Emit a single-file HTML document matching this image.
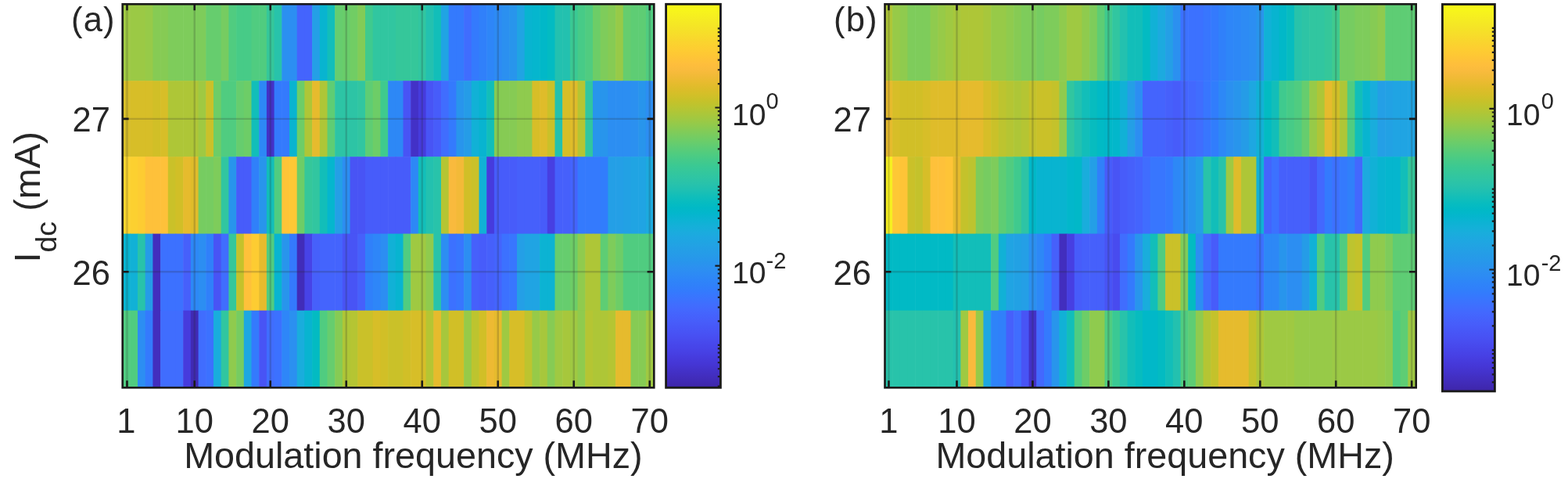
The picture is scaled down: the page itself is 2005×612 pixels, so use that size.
<!DOCTYPE html>
<html><head><meta charset="utf-8"><title>figure</title>
<style>html,body{margin:0;padding:0;background:#fff;width:2005px;height:612px;overflow:hidden}svg{display:block}</style>
</head><body>
<svg width="2005" height="612" viewBox="0 0 2005 612">
<defs><linearGradient id="cbg" x1="0" y1="0" x2="0" y2="1"><stop offset="0.0000" stop-color="#f9fb15"/><stop offset="0.0156" stop-color="#f7f51b"/><stop offset="0.0312" stop-color="#f6ef20"/><stop offset="0.0469" stop-color="#f5e924"/><stop offset="0.0625" stop-color="#f5e327"/><stop offset="0.0781" stop-color="#f7dd2a"/><stop offset="0.0938" stop-color="#f9d62d"/><stop offset="0.1094" stop-color="#fcd030"/><stop offset="0.1250" stop-color="#feca33"/><stop offset="0.1406" stop-color="#fec437"/><stop offset="0.1562" stop-color="#febe3c"/><stop offset="0.1719" stop-color="#f9bb3d"/><stop offset="0.1875" stop-color="#f1ba37"/><stop offset="0.2031" stop-color="#e8bb2f"/><stop offset="0.2188" stop-color="#debc2a"/><stop offset="0.2344" stop-color="#d4bf28"/><stop offset="0.2500" stop-color="#c8c129"/><stop offset="0.2656" stop-color="#bcc42f"/><stop offset="0.2812" stop-color="#afc637"/><stop offset="0.2969" stop-color="#a2c840"/><stop offset="0.3125" stop-color="#94ca4a"/><stop offset="0.3281" stop-color="#85cb55"/><stop offset="0.3438" stop-color="#77cc60"/><stop offset="0.3594" stop-color="#69cd6b"/><stop offset="0.3750" stop-color="#5ccc76"/><stop offset="0.3906" stop-color="#4fcc80"/><stop offset="0.4062" stop-color="#44ca8a"/><stop offset="0.4219" stop-color="#3ac993"/><stop offset="0.4375" stop-color="#34c79c"/><stop offset="0.4531" stop-color="#2ec5a4"/><stop offset="0.4688" stop-color="#28c2ab"/><stop offset="0.4844" stop-color="#1ec0b2"/><stop offset="0.5000" stop-color="#12beb9"/><stop offset="0.5156" stop-color="#07bcc0"/><stop offset="0.5312" stop-color="#01b9c6"/><stop offset="0.5469" stop-color="#04b6cd"/><stop offset="0.5625" stop-color="#0cb3d3"/><stop offset="0.5781" stop-color="#14b0d8"/><stop offset="0.5938" stop-color="#1aacdd"/><stop offset="0.6094" stop-color="#1ea7e1"/><stop offset="0.6250" stop-color="#21a3e3"/><stop offset="0.6406" stop-color="#249ee6"/><stop offset="0.6562" stop-color="#269ae9"/><stop offset="0.6719" stop-color="#2895ec"/><stop offset="0.6875" stop-color="#2c90f0"/><stop offset="0.7031" stop-color="#2d8bf4"/><stop offset="0.7188" stop-color="#2e85f8"/><stop offset="0.7344" stop-color="#3080fa"/><stop offset="0.7500" stop-color="#347afd"/><stop offset="0.7656" stop-color="#3a74fe"/><stop offset="0.7812" stop-color="#3f6efe"/><stop offset="0.7969" stop-color="#4368fe"/><stop offset="0.8125" stop-color="#4562fc"/><stop offset="0.8281" stop-color="#475dfa"/><stop offset="0.8438" stop-color="#4757f7"/><stop offset="0.8594" stop-color="#4852f4"/><stop offset="0.8750" stop-color="#484cef"/><stop offset="0.8906" stop-color="#4746ea"/><stop offset="0.9062" stop-color="#4741e5"/><stop offset="0.9219" stop-color="#463bdd"/><stop offset="0.9375" stop-color="#4536d5"/><stop offset="0.9531" stop-color="#4332ca"/><stop offset="0.9688" stop-color="#422ebf"/><stop offset="0.9844" stop-color="#402ab4"/><stop offset="1.0000" stop-color="#3e26a8"/></linearGradient></defs>
<style>
.t{font-family:'Liberation Sans',Arial,Helvetica,sans-serif;font-size:43.5px;fill:#262626}
.pl{font-family:'Liberation Sans',Arial,Helvetica,sans-serif;font-size:43.5px;fill:#262626;letter-spacing:1.2px}
.sup{font-family:'Liberation Sans',Arial,Helvetica,sans-serif;font-size:29px;fill:#262626}
.cb{font-family:'Liberation Sans',Arial,Helvetica,sans-serif;font-size:39px;fill:#262626}
.xl{font-family:'Liberation Sans',Arial,Helvetica,sans-serif;font-size:46.7px;fill:#262626}
.yl{font-family:'Liberation Sans',Arial,Helvetica,sans-serif;font-size:47px;fill:#262626}
.sub{font-size:37.5px}
</style>
<rect width="2005" height="612" fill="#fff"/><rect x="156.60" y="5.40" width="10.30" height="98.40" fill="#9fc942"/>
<rect x="166.30" y="5.40" width="10.30" height="98.40" fill="#9bc945"/>
<rect x="176.00" y="5.40" width="10.30" height="98.40" fill="#9bc945"/>
<rect x="185.70" y="5.40" width="10.30" height="98.40" fill="#97ca48"/>
<rect x="195.40" y="5.40" width="10.30" height="98.40" fill="#86cb54"/>
<rect x="205.10" y="5.40" width="10.30" height="98.40" fill="#86cb54"/>
<rect x="214.80" y="5.40" width="10.30" height="98.40" fill="#7ecc5b"/>
<rect x="224.50" y="5.40" width="10.30" height="98.40" fill="#7ecc5b"/>
<rect x="234.20" y="5.40" width="10.30" height="98.40" fill="#7ecc5b"/>
<rect x="243.90" y="5.40" width="10.30" height="98.40" fill="#7ecc5b"/>
<rect x="253.60" y="5.40" width="10.30" height="98.40" fill="#7ecc5b"/>
<rect x="263.30" y="5.40" width="10.30" height="98.40" fill="#66cd6e"/>
<rect x="273.00" y="5.40" width="10.30" height="98.40" fill="#66cd6e"/>
<rect x="282.70" y="5.40" width="10.30" height="98.40" fill="#76cc61"/>
<rect x="292.40" y="5.40" width="10.30" height="98.40" fill="#50cc80"/>
<rect x="302.10" y="5.40" width="10.30" height="98.40" fill="#47cb87"/>
<rect x="311.80" y="5.40" width="10.30" height="98.40" fill="#47cb87"/>
<rect x="321.50" y="5.40" width="10.30" height="98.40" fill="#50cc80"/>
<rect x="331.20" y="5.40" width="10.30" height="98.40" fill="#50cc80"/>
<rect x="340.90" y="5.40" width="10.30" height="98.40" fill="#35c79a"/>
<rect x="350.60" y="5.40" width="10.30" height="98.40" fill="#28c3aa"/>
<rect x="360.30" y="5.40" width="10.30" height="98.40" fill="#2b90f0"/>
<rect x="370.00" y="5.40" width="10.30" height="98.40" fill="#2c8ef2"/>
<rect x="379.70" y="5.40" width="10.30" height="98.40" fill="#4464fd"/>
<rect x="389.40" y="5.40" width="10.30" height="98.40" fill="#4464fd"/>
<rect x="399.10" y="5.40" width="10.30" height="98.40" fill="#249fe6"/>
<rect x="408.80" y="5.40" width="10.30" height="98.40" fill="#08b4d0"/>
<rect x="418.50" y="5.40" width="10.30" height="98.40" fill="#12beb9"/>
<rect x="428.20" y="5.40" width="10.30" height="98.40" fill="#66cd6e"/>
<rect x="437.90" y="5.40" width="10.30" height="98.40" fill="#69cd6a"/>
<rect x="447.60" y="5.40" width="10.30" height="98.40" fill="#71cd64"/>
<rect x="457.30" y="5.40" width="10.30" height="98.40" fill="#82cc57"/>
<rect x="467.00" y="5.40" width="10.30" height="98.40" fill="#3fca8e"/>
<rect x="476.70" y="5.40" width="10.30" height="98.40" fill="#31c6a0"/>
<rect x="486.40" y="5.40" width="10.30" height="98.40" fill="#31c6a0"/>
<rect x="496.10" y="5.40" width="10.30" height="98.40" fill="#31c6a0"/>
<rect x="505.80" y="5.40" width="10.30" height="98.40" fill="#35c79a"/>
<rect x="515.50" y="5.40" width="10.30" height="98.40" fill="#35c79a"/>
<rect x="525.20" y="5.40" width="10.30" height="98.40" fill="#35c79a"/>
<rect x="534.90" y="5.40" width="10.30" height="98.40" fill="#31c6a0"/>
<rect x="544.60" y="5.40" width="10.30" height="98.40" fill="#23c1af"/>
<rect x="554.30" y="5.40" width="10.30" height="98.40" fill="#12beb9"/>
<rect x="564.00" y="5.40" width="10.30" height="98.40" fill="#20a4e3"/>
<rect x="573.70" y="5.40" width="10.30" height="98.40" fill="#347afd"/>
<rect x="583.40" y="5.40" width="10.30" height="98.40" fill="#347afd"/>
<rect x="593.10" y="5.40" width="10.30" height="98.40" fill="#406dfe"/>
<rect x="602.80" y="5.40" width="10.30" height="98.40" fill="#347afd"/>
<rect x="612.50" y="5.40" width="10.30" height="98.40" fill="#3080fa"/>
<rect x="622.20" y="5.40" width="10.30" height="98.40" fill="#2e86f8"/>
<rect x="631.90" y="5.40" width="10.30" height="98.40" fill="#2d8bf4"/>
<rect x="641.60" y="5.40" width="10.30" height="98.40" fill="#2b90f0"/>
<rect x="651.30" y="5.40" width="10.30" height="98.40" fill="#2895ec"/>
<rect x="661.00" y="5.40" width="10.30" height="98.40" fill="#20a4e3"/>
<rect x="670.70" y="5.40" width="10.30" height="98.40" fill="#08b4d0"/>
<rect x="680.40" y="5.40" width="10.30" height="98.40" fill="#05b6ce"/>
<rect x="690.10" y="5.40" width="10.30" height="98.40" fill="#01b8c8"/>
<rect x="699.80" y="5.40" width="10.30" height="98.40" fill="#03bbc2"/>
<rect x="709.50" y="5.40" width="10.30" height="98.40" fill="#23c1af"/>
<rect x="719.20" y="5.40" width="10.30" height="98.40" fill="#23c1af"/>
<rect x="728.90" y="5.40" width="10.30" height="98.40" fill="#3ac994"/>
<rect x="738.60" y="5.40" width="10.30" height="98.40" fill="#47cb87"/>
<rect x="748.30" y="5.40" width="10.30" height="98.40" fill="#50cc80"/>
<rect x="758.00" y="5.40" width="10.30" height="98.40" fill="#6dcd67"/>
<rect x="767.70" y="5.40" width="10.30" height="98.40" fill="#7ecc5b"/>
<rect x="777.40" y="5.40" width="10.30" height="98.40" fill="#86cb54"/>
<rect x="787.10" y="5.40" width="10.30" height="98.40" fill="#97ca48"/>
<rect x="796.80" y="5.40" width="10.30" height="98.40" fill="#66cd6e"/>
<rect x="806.50" y="5.40" width="10.30" height="98.40" fill="#5ecd74"/>
<rect x="816.20" y="5.40" width="10.30" height="98.40" fill="#5ecd74"/>
<rect x="825.90" y="5.40" width="10.30" height="98.40" fill="#50cc80"/>
<rect x="156.60" y="103.20" width="10.30" height="97.60" fill="#d7be28"/>
<rect x="166.30" y="103.20" width="10.30" height="97.60" fill="#d7be28"/>
<rect x="176.00" y="103.20" width="10.30" height="97.60" fill="#d7be28"/>
<rect x="185.70" y="103.20" width="10.30" height="97.60" fill="#d7be28"/>
<rect x="195.40" y="103.20" width="10.30" height="97.60" fill="#d1bf27"/>
<rect x="205.10" y="103.20" width="10.30" height="97.60" fill="#d7be28"/>
<rect x="214.80" y="103.20" width="10.30" height="97.60" fill="#aec637"/>
<rect x="224.50" y="103.20" width="10.30" height="97.60" fill="#aec637"/>
<rect x="234.20" y="103.20" width="10.30" height="97.60" fill="#aec637"/>
<rect x="243.90" y="103.20" width="10.30" height="97.60" fill="#aec637"/>
<rect x="253.60" y="103.20" width="10.30" height="97.60" fill="#9fc942"/>
<rect x="263.30" y="103.20" width="10.30" height="97.60" fill="#cac129"/>
<rect x="273.00" y="103.20" width="10.30" height="97.60" fill="#6dcd67"/>
<rect x="282.70" y="103.20" width="10.30" height="97.60" fill="#50cc80"/>
<rect x="292.40" y="103.20" width="10.30" height="97.60" fill="#50cc80"/>
<rect x="302.10" y="103.20" width="10.30" height="97.60" fill="#66cd6e"/>
<rect x="311.80" y="103.20" width="10.30" height="97.60" fill="#6dcd67"/>
<rect x="321.50" y="103.20" width="10.30" height="97.60" fill="#12beb9"/>
<rect x="331.20" y="103.20" width="10.30" height="97.60" fill="#2d88f6"/>
<rect x="340.90" y="103.20" width="10.30" height="97.60" fill="#4331c7"/>
<rect x="350.60" y="103.20" width="10.30" height="97.60" fill="#347afd"/>
<rect x="360.30" y="103.20" width="10.30" height="97.60" fill="#347afd"/>
<rect x="370.00" y="103.20" width="10.30" height="97.60" fill="#08b4d0"/>
<rect x="379.70" y="103.20" width="10.30" height="97.60" fill="#6dcd67"/>
<rect x="389.40" y="103.20" width="10.30" height="97.60" fill="#aec637"/>
<rect x="399.10" y="103.20" width="10.30" height="97.60" fill="#e6bb2d"/>
<rect x="408.80" y="103.20" width="10.30" height="97.60" fill="#aec637"/>
<rect x="418.50" y="103.20" width="10.30" height="97.60" fill="#5ecd74"/>
<rect x="428.20" y="103.20" width="10.30" height="97.60" fill="#2dc4a5"/>
<rect x="437.90" y="103.20" width="10.30" height="97.60" fill="#2dc4a5"/>
<rect x="447.60" y="103.20" width="10.30" height="97.60" fill="#2dc4a5"/>
<rect x="457.30" y="103.20" width="10.30" height="97.60" fill="#31c6a0"/>
<rect x="467.00" y="103.20" width="10.30" height="97.60" fill="#5ecd74"/>
<rect x="476.70" y="103.20" width="10.30" height="97.60" fill="#6dcd67"/>
<rect x="486.40" y="103.20" width="10.30" height="97.60" fill="#3fca8e"/>
<rect x="496.10" y="103.20" width="10.30" height="97.60" fill="#2d88f6"/>
<rect x="505.80" y="103.20" width="10.30" height="97.60" fill="#2d88f6"/>
<rect x="515.50" y="103.20" width="10.30" height="97.60" fill="#4854f5"/>
<rect x="525.20" y="103.20" width="10.30" height="97.60" fill="#4331c7"/>
<rect x="534.90" y="103.20" width="10.30" height="97.60" fill="#463bdd"/>
<rect x="544.60" y="103.20" width="10.30" height="97.60" fill="#4854f5"/>
<rect x="554.30" y="103.20" width="10.30" height="97.60" fill="#475cfa"/>
<rect x="564.00" y="103.20" width="10.30" height="97.60" fill="#406dfe"/>
<rect x="573.70" y="103.20" width="10.30" height="97.60" fill="#347afd"/>
<rect x="583.40" y="103.20" width="10.30" height="97.60" fill="#2895ec"/>
<rect x="593.10" y="103.20" width="10.30" height="97.60" fill="#259ce7"/>
<rect x="602.80" y="103.20" width="10.30" height="97.60" fill="#11b1d6"/>
<rect x="612.50" y="103.20" width="10.30" height="97.60" fill="#08b4d0"/>
<rect x="622.20" y="103.20" width="10.30" height="97.60" fill="#12beb9"/>
<rect x="631.90" y="103.20" width="10.30" height="97.60" fill="#86cb54"/>
<rect x="641.60" y="103.20" width="10.30" height="97.60" fill="#86cb54"/>
<rect x="651.30" y="103.20" width="10.30" height="97.60" fill="#86cb54"/>
<rect x="661.00" y="103.20" width="10.30" height="97.60" fill="#8fcb4e"/>
<rect x="670.70" y="103.20" width="10.30" height="97.60" fill="#8fcb4e"/>
<rect x="680.40" y="103.20" width="10.30" height="97.60" fill="#d7be28"/>
<rect x="690.10" y="103.20" width="10.30" height="97.60" fill="#dfbc2a"/>
<rect x="699.80" y="103.20" width="10.30" height="97.60" fill="#cac129"/>
<rect x="709.50" y="103.20" width="10.30" height="97.60" fill="#23c1af"/>
<rect x="719.20" y="103.20" width="10.30" height="97.60" fill="#d7be28"/>
<rect x="728.90" y="103.20" width="10.30" height="97.60" fill="#dfbc2a"/>
<rect x="738.60" y="103.20" width="10.30" height="97.60" fill="#b5c533"/>
<rect x="748.30" y="103.20" width="10.30" height="97.60" fill="#31c6a0"/>
<rect x="758.00" y="103.20" width="10.30" height="97.60" fill="#2895ec"/>
<rect x="767.70" y="103.20" width="10.30" height="97.60" fill="#2895ec"/>
<rect x="777.40" y="103.20" width="10.30" height="97.60" fill="#2c8ef2"/>
<rect x="787.10" y="103.20" width="10.30" height="97.60" fill="#2c8ef2"/>
<rect x="796.80" y="103.20" width="10.30" height="97.60" fill="#2c8ef2"/>
<rect x="806.50" y="103.20" width="10.30" height="97.60" fill="#2b90f0"/>
<rect x="816.20" y="103.20" width="10.30" height="97.60" fill="#2895ec"/>
<rect x="825.90" y="103.20" width="10.30" height="97.60" fill="#2c8ef2"/>
<rect x="156.60" y="200.20" width="10.30" height="99.00" fill="#fad42e"/>
<rect x="166.30" y="200.20" width="10.30" height="99.00" fill="#fcd030"/>
<rect x="176.00" y="200.20" width="10.30" height="99.00" fill="#fdcc32"/>
<rect x="185.70" y="200.20" width="10.30" height="99.00" fill="#fec13a"/>
<rect x="195.40" y="200.20" width="10.30" height="99.00" fill="#fec13a"/>
<rect x="205.10" y="200.20" width="10.30" height="99.00" fill="#fec13a"/>
<rect x="214.80" y="200.20" width="10.30" height="99.00" fill="#cac129"/>
<rect x="224.50" y="200.20" width="10.30" height="99.00" fill="#d1bf27"/>
<rect x="234.20" y="200.20" width="10.30" height="99.00" fill="#e6bb2d"/>
<rect x="243.90" y="200.20" width="10.30" height="99.00" fill="#dfbc2a"/>
<rect x="253.60" y="200.20" width="10.30" height="99.00" fill="#76cc61"/>
<rect x="263.30" y="200.20" width="10.30" height="99.00" fill="#76cc61"/>
<rect x="273.00" y="200.20" width="10.30" height="99.00" fill="#7ecc5b"/>
<rect x="282.70" y="200.20" width="10.30" height="99.00" fill="#31c6a0"/>
<rect x="292.40" y="200.20" width="10.30" height="99.00" fill="#2895ec"/>
<rect x="302.10" y="200.20" width="10.30" height="99.00" fill="#475cfa"/>
<rect x="311.80" y="200.20" width="10.30" height="99.00" fill="#475cfa"/>
<rect x="321.50" y="200.20" width="10.30" height="99.00" fill="#3080fa"/>
<rect x="331.20" y="200.20" width="10.30" height="99.00" fill="#2895ec"/>
<rect x="340.90" y="200.20" width="10.30" height="99.00" fill="#12beb9"/>
<rect x="350.60" y="200.20" width="10.30" height="99.00" fill="#50cc80"/>
<rect x="360.30" y="200.20" width="10.30" height="99.00" fill="#fec437"/>
<rect x="370.00" y="200.20" width="10.30" height="99.00" fill="#fec835"/>
<rect x="379.70" y="200.20" width="10.30" height="99.00" fill="#6dcd67"/>
<rect x="389.40" y="200.20" width="10.30" height="99.00" fill="#35c79a"/>
<rect x="399.10" y="200.20" width="10.30" height="99.00" fill="#31c6a0"/>
<rect x="408.80" y="200.20" width="10.30" height="99.00" fill="#12beb9"/>
<rect x="418.50" y="200.20" width="10.30" height="99.00" fill="#05b6ce"/>
<rect x="428.20" y="200.20" width="10.30" height="99.00" fill="#249fe6"/>
<rect x="437.90" y="200.20" width="10.30" height="99.00" fill="#2c8ef2"/>
<rect x="447.60" y="200.20" width="10.30" height="99.00" fill="#4854f5"/>
<rect x="457.30" y="200.20" width="10.30" height="99.00" fill="#4854f5"/>
<rect x="467.00" y="200.20" width="10.30" height="99.00" fill="#475cfa"/>
<rect x="476.70" y="200.20" width="10.30" height="99.00" fill="#475cfa"/>
<rect x="486.40" y="200.20" width="10.30" height="99.00" fill="#475cfa"/>
<rect x="496.10" y="200.20" width="10.30" height="99.00" fill="#475cfa"/>
<rect x="505.80" y="200.20" width="10.30" height="99.00" fill="#475cfa"/>
<rect x="515.50" y="200.20" width="10.30" height="99.00" fill="#475cfa"/>
<rect x="525.20" y="200.20" width="10.30" height="99.00" fill="#2d88f6"/>
<rect x="534.90" y="200.20" width="10.30" height="99.00" fill="#12beb9"/>
<rect x="544.60" y="200.20" width="10.30" height="99.00" fill="#23c1af"/>
<rect x="554.30" y="200.20" width="10.30" height="99.00" fill="#28c3aa"/>
<rect x="564.00" y="200.20" width="10.30" height="99.00" fill="#b5c533"/>
<rect x="573.70" y="200.20" width="10.30" height="99.00" fill="#f9ba3d"/>
<rect x="583.40" y="200.20" width="10.30" height="99.00" fill="#f3ba38"/>
<rect x="593.10" y="200.20" width="10.30" height="99.00" fill="#d1bf27"/>
<rect x="602.80" y="200.20" width="10.30" height="99.00" fill="#cac129"/>
<rect x="612.50" y="200.20" width="10.30" height="99.00" fill="#11b1d6"/>
<rect x="622.20" y="200.20" width="10.30" height="99.00" fill="#463bdd"/>
<rect x="631.90" y="200.20" width="10.30" height="99.00" fill="#475cfa"/>
<rect x="641.60" y="200.20" width="10.30" height="99.00" fill="#475cfa"/>
<rect x="651.30" y="200.20" width="10.30" height="99.00" fill="#475cfa"/>
<rect x="661.00" y="200.20" width="10.30" height="99.00" fill="#4660fb"/>
<rect x="670.70" y="200.20" width="10.30" height="99.00" fill="#4660fb"/>
<rect x="680.40" y="200.20" width="10.30" height="99.00" fill="#4660fb"/>
<rect x="690.10" y="200.20" width="10.30" height="99.00" fill="#475cfa"/>
<rect x="699.80" y="200.20" width="10.30" height="99.00" fill="#473fe2"/>
<rect x="709.50" y="200.20" width="10.30" height="99.00" fill="#4660fb"/>
<rect x="719.20" y="200.20" width="10.30" height="99.00" fill="#4660fb"/>
<rect x="728.90" y="200.20" width="10.30" height="99.00" fill="#4464fd"/>
<rect x="738.60" y="200.20" width="10.30" height="99.00" fill="#347afd"/>
<rect x="748.30" y="200.20" width="10.30" height="99.00" fill="#347afd"/>
<rect x="758.00" y="200.20" width="10.30" height="99.00" fill="#347afd"/>
<rect x="767.70" y="200.20" width="10.30" height="99.00" fill="#317dfc"/>
<rect x="777.40" y="200.20" width="10.30" height="99.00" fill="#249fe6"/>
<rect x="787.10" y="200.20" width="10.30" height="99.00" fill="#249fe6"/>
<rect x="796.80" y="200.20" width="10.30" height="99.00" fill="#22a1e4"/>
<rect x="806.50" y="200.20" width="10.30" height="99.00" fill="#20a4e3"/>
<rect x="816.20" y="200.20" width="10.30" height="99.00" fill="#20a4e3"/>
<rect x="825.90" y="200.20" width="10.30" height="99.00" fill="#1caadf"/>
<rect x="156.60" y="298.60" width="10.30" height="98.70" fill="#08b4d0"/>
<rect x="166.30" y="298.60" width="10.30" height="98.70" fill="#11b1d6"/>
<rect x="176.00" y="298.60" width="10.30" height="98.70" fill="#28c3aa"/>
<rect x="185.70" y="298.60" width="10.30" height="98.70" fill="#259ce7"/>
<rect x="195.40" y="298.60" width="10.30" height="98.70" fill="#422ebe"/>
<rect x="205.10" y="298.60" width="10.30" height="98.70" fill="#3c71ff"/>
<rect x="214.80" y="298.60" width="10.30" height="98.70" fill="#3c71ff"/>
<rect x="224.50" y="298.60" width="10.30" height="98.70" fill="#3c71ff"/>
<rect x="234.20" y="298.60" width="10.30" height="98.70" fill="#4660fb"/>
<rect x="243.90" y="298.60" width="10.30" height="98.70" fill="#2d88f6"/>
<rect x="253.60" y="298.60" width="10.30" height="98.70" fill="#2c8ef2"/>
<rect x="263.30" y="298.60" width="10.30" height="98.70" fill="#3080fa"/>
<rect x="273.00" y="298.60" width="10.30" height="98.70" fill="#4854f5"/>
<rect x="282.70" y="298.60" width="10.30" height="98.70" fill="#406dfe"/>
<rect x="292.40" y="298.60" width="10.30" height="98.70" fill="#35c79a"/>
<rect x="302.10" y="298.60" width="10.30" height="98.70" fill="#c4c22b"/>
<rect x="311.80" y="298.60" width="10.30" height="98.70" fill="#fec13a"/>
<rect x="321.50" y="298.60" width="10.30" height="98.70" fill="#fdcc32"/>
<rect x="331.20" y="298.60" width="10.30" height="98.70" fill="#e6bb2d"/>
<rect x="340.90" y="298.60" width="10.30" height="98.70" fill="#50cc80"/>
<rect x="350.60" y="298.60" width="10.30" height="98.70" fill="#08b4d0"/>
<rect x="360.30" y="298.60" width="10.30" height="98.70" fill="#2895ec"/>
<rect x="370.00" y="298.60" width="10.30" height="98.70" fill="#347afd"/>
<rect x="379.70" y="298.60" width="10.30" height="98.70" fill="#412cb9"/>
<rect x="389.40" y="298.60" width="10.30" height="98.70" fill="#4743e7"/>
<rect x="399.10" y="298.60" width="10.30" height="98.70" fill="#4660fb"/>
<rect x="408.80" y="298.60" width="10.30" height="98.70" fill="#4464fd"/>
<rect x="418.50" y="298.60" width="10.30" height="98.70" fill="#4464fd"/>
<rect x="428.20" y="298.60" width="10.30" height="98.70" fill="#4464fd"/>
<rect x="437.90" y="298.60" width="10.30" height="98.70" fill="#4854f5"/>
<rect x="447.60" y="298.60" width="10.30" height="98.70" fill="#4854f5"/>
<rect x="457.30" y="298.60" width="10.30" height="98.70" fill="#4660fb"/>
<rect x="467.00" y="298.60" width="10.30" height="98.70" fill="#3080fa"/>
<rect x="476.70" y="298.60" width="10.30" height="98.70" fill="#2e86f8"/>
<rect x="486.40" y="298.60" width="10.30" height="98.70" fill="#2c8ef2"/>
<rect x="496.10" y="298.60" width="10.30" height="98.70" fill="#11b1d6"/>
<rect x="505.80" y="298.60" width="10.30" height="98.70" fill="#08b4d0"/>
<rect x="515.50" y="298.60" width="10.30" height="98.70" fill="#50cc80"/>
<rect x="525.20" y="298.60" width="10.30" height="98.70" fill="#9fc942"/>
<rect x="534.90" y="298.60" width="10.30" height="98.70" fill="#9fc942"/>
<rect x="544.60" y="298.60" width="10.30" height="98.70" fill="#8fcb4e"/>
<rect x="554.30" y="298.60" width="10.30" height="98.70" fill="#28c3aa"/>
<rect x="564.00" y="298.60" width="10.30" height="98.70" fill="#2c8ef2"/>
<rect x="573.70" y="298.60" width="10.30" height="98.70" fill="#3c71ff"/>
<rect x="583.40" y="298.60" width="10.30" height="98.70" fill="#3876fe"/>
<rect x="593.10" y="298.60" width="10.30" height="98.70" fill="#2c8ef2"/>
<rect x="602.80" y="298.60" width="10.30" height="98.70" fill="#4660fb"/>
<rect x="612.50" y="298.60" width="10.30" height="98.70" fill="#475cfa"/>
<rect x="622.20" y="298.60" width="10.30" height="98.70" fill="#4660fb"/>
<rect x="631.90" y="298.60" width="10.30" height="98.70" fill="#4464fd"/>
<rect x="641.60" y="298.60" width="10.30" height="98.70" fill="#3c71ff"/>
<rect x="651.30" y="298.60" width="10.30" height="98.70" fill="#3876fe"/>
<rect x="661.00" y="298.60" width="10.30" height="98.70" fill="#249fe6"/>
<rect x="670.70" y="298.60" width="10.30" height="98.70" fill="#20a4e3"/>
<rect x="680.40" y="298.60" width="10.30" height="98.70" fill="#20a4e3"/>
<rect x="690.10" y="298.60" width="10.30" height="98.70" fill="#0cb3d3"/>
<rect x="699.80" y="298.60" width="10.30" height="98.70" fill="#0cb3d3"/>
<rect x="709.50" y="298.60" width="10.30" height="98.70" fill="#66cd6e"/>
<rect x="719.20" y="298.60" width="10.30" height="98.70" fill="#66cd6e"/>
<rect x="728.90" y="298.60" width="10.30" height="98.70" fill="#6dcd67"/>
<rect x="738.60" y="298.60" width="10.30" height="98.70" fill="#8fcb4e"/>
<rect x="748.30" y="298.60" width="10.30" height="98.70" fill="#aec637"/>
<rect x="758.00" y="298.60" width="10.30" height="98.70" fill="#aec637"/>
<rect x="767.70" y="298.60" width="10.30" height="98.70" fill="#5ecd74"/>
<rect x="777.40" y="298.60" width="10.30" height="98.70" fill="#7ecc5b"/>
<rect x="787.10" y="298.60" width="10.30" height="98.70" fill="#6dcd67"/>
<rect x="796.80" y="298.60" width="10.30" height="98.70" fill="#50cc80"/>
<rect x="806.50" y="298.60" width="10.30" height="98.70" fill="#50cc80"/>
<rect x="816.20" y="298.60" width="10.30" height="98.70" fill="#50cc80"/>
<rect x="825.90" y="298.60" width="10.30" height="98.70" fill="#50cc80"/>
<rect x="156.60" y="396.70" width="10.30" height="97.50" fill="#50cc80"/>
<rect x="166.30" y="396.70" width="10.30" height="97.50" fill="#50cc80"/>
<rect x="176.00" y="396.70" width="10.30" height="97.50" fill="#2c8ef2"/>
<rect x="185.70" y="396.70" width="10.30" height="97.50" fill="#347afd"/>
<rect x="195.40" y="396.70" width="10.30" height="97.50" fill="#422ebe"/>
<rect x="205.10" y="396.70" width="10.30" height="97.50" fill="#406dfe"/>
<rect x="214.80" y="396.70" width="10.30" height="97.50" fill="#406dfe"/>
<rect x="224.50" y="396.70" width="10.30" height="97.50" fill="#406dfe"/>
<rect x="234.20" y="396.70" width="10.30" height="97.50" fill="#463bdd"/>
<rect x="243.90" y="396.70" width="10.30" height="97.50" fill="#402ab4"/>
<rect x="253.60" y="396.70" width="10.30" height="97.50" fill="#406dfe"/>
<rect x="263.30" y="396.70" width="10.30" height="97.50" fill="#3c71ff"/>
<rect x="273.00" y="396.70" width="10.30" height="97.50" fill="#19addc"/>
<rect x="282.70" y="396.70" width="10.30" height="97.50" fill="#31c6a0"/>
<rect x="292.40" y="396.70" width="10.30" height="97.50" fill="#8fcb4e"/>
<rect x="302.10" y="396.70" width="10.30" height="97.50" fill="#76cc61"/>
<rect x="311.80" y="396.70" width="10.30" height="97.50" fill="#1ea7e1"/>
<rect x="321.50" y="396.70" width="10.30" height="97.50" fill="#347afd"/>
<rect x="331.20" y="396.70" width="10.30" height="97.50" fill="#4854f5"/>
<rect x="340.90" y="396.70" width="10.30" height="97.50" fill="#406dfe"/>
<rect x="350.60" y="396.70" width="10.30" height="97.50" fill="#3c71ff"/>
<rect x="360.30" y="396.70" width="10.30" height="97.50" fill="#2e86f8"/>
<rect x="370.00" y="396.70" width="10.30" height="97.50" fill="#2b90f0"/>
<rect x="379.70" y="396.70" width="10.30" height="97.50" fill="#19addc"/>
<rect x="389.40" y="396.70" width="10.30" height="97.50" fill="#08b4d0"/>
<rect x="399.10" y="396.70" width="10.30" height="97.50" fill="#03bbc2"/>
<rect x="408.80" y="396.70" width="10.30" height="97.50" fill="#50cc80"/>
<rect x="418.50" y="396.70" width="10.30" height="97.50" fill="#66cd6e"/>
<rect x="428.20" y="396.70" width="10.30" height="97.50" fill="#86cb54"/>
<rect x="437.90" y="396.70" width="10.30" height="97.50" fill="#aec637"/>
<rect x="447.60" y="396.70" width="10.30" height="97.50" fill="#b5c533"/>
<rect x="457.30" y="396.70" width="10.30" height="97.50" fill="#cac129"/>
<rect x="467.00" y="396.70" width="10.30" height="97.50" fill="#cac129"/>
<rect x="476.70" y="396.70" width="10.30" height="97.50" fill="#d7be28"/>
<rect x="486.40" y="396.70" width="10.30" height="97.50" fill="#d1bf27"/>
<rect x="496.10" y="396.70" width="10.30" height="97.50" fill="#cac129"/>
<rect x="505.80" y="396.70" width="10.30" height="97.50" fill="#cac129"/>
<rect x="515.50" y="396.70" width="10.30" height="97.50" fill="#d1bf27"/>
<rect x="525.20" y="396.70" width="10.30" height="97.50" fill="#d7be28"/>
<rect x="534.90" y="396.70" width="10.30" height="97.50" fill="#d7be28"/>
<rect x="544.60" y="396.70" width="10.30" height="97.50" fill="#b5c533"/>
<rect x="554.30" y="396.70" width="10.30" height="97.50" fill="#e6bb2d"/>
<rect x="564.00" y="396.70" width="10.30" height="97.50" fill="#a7c73c"/>
<rect x="573.70" y="396.70" width="10.30" height="97.50" fill="#d1bf27"/>
<rect x="583.40" y="396.70" width="10.30" height="97.50" fill="#d1bf27"/>
<rect x="593.10" y="396.70" width="10.30" height="97.50" fill="#97ca48"/>
<rect x="602.80" y="396.70" width="10.30" height="97.50" fill="#bdc42f"/>
<rect x="612.50" y="396.70" width="10.30" height="97.50" fill="#d1bf27"/>
<rect x="622.20" y="396.70" width="10.30" height="97.50" fill="#edba33"/>
<rect x="631.90" y="396.70" width="10.30" height="97.50" fill="#e6bb2d"/>
<rect x="641.60" y="396.70" width="10.30" height="97.50" fill="#9fc942"/>
<rect x="651.30" y="396.70" width="10.30" height="97.50" fill="#d7be28"/>
<rect x="661.00" y="396.70" width="10.30" height="97.50" fill="#d7be28"/>
<rect x="670.70" y="396.70" width="10.30" height="97.50" fill="#bdc42f"/>
<rect x="680.40" y="396.70" width="10.30" height="97.50" fill="#97ca48"/>
<rect x="690.10" y="396.70" width="10.30" height="97.50" fill="#a7c73c"/>
<rect x="699.80" y="396.70" width="10.30" height="97.50" fill="#86cb54"/>
<rect x="709.50" y="396.70" width="10.30" height="97.50" fill="#9fc942"/>
<rect x="719.20" y="396.70" width="10.30" height="97.50" fill="#a7c73c"/>
<rect x="728.90" y="396.70" width="10.30" height="97.50" fill="#9fc942"/>
<rect x="738.60" y="396.70" width="10.30" height="97.50" fill="#8fcb4e"/>
<rect x="748.30" y="396.70" width="10.30" height="97.50" fill="#b5c533"/>
<rect x="758.00" y="396.70" width="10.30" height="97.50" fill="#aec637"/>
<rect x="767.70" y="396.70" width="10.30" height="97.50" fill="#aec637"/>
<rect x="777.40" y="396.70" width="10.30" height="97.50" fill="#b5c533"/>
<rect x="787.10" y="396.70" width="10.30" height="97.50" fill="#e6bb2d"/>
<rect x="796.80" y="396.70" width="10.30" height="97.50" fill="#e6bb2d"/>
<rect x="806.50" y="396.70" width="10.30" height="97.50" fill="#86cb54"/>
<rect x="816.20" y="396.70" width="10.30" height="97.50" fill="#86cb54"/>
<rect x="825.90" y="396.70" width="10.30" height="97.50" fill="#9fc942"/>
<path d="M162.45 5.40V493.80M248.75 5.40V493.80M345.75 5.40V493.80M442.75 5.40V493.80M539.75 5.40V493.80M636.75 5.40V493.80M733.75 5.40V493.80M830.75 5.40V493.80" stroke="#262626" stroke-opacity="0.2" stroke-width="2.4" fill="none"/>
<path d="M156.60 347.20H835.60M156.60 151.90H835.60" stroke="#262626" stroke-opacity="0.2" stroke-width="2.4" fill="none"/>
<path d="M162.45 495.30v-9M162.45 5.30v8M248.75 495.30v-9M248.75 5.30v8M345.75 495.30v-9M345.75 5.30v8M442.75 495.30v-9M442.75 5.30v8M539.75 495.30v-9M539.75 5.30v8M636.75 495.30v-9M636.75 5.30v8M733.75 495.30v-9M733.75 5.30v8M830.75 495.30v-9M830.75 5.30v8M156.60 347.20h8M835.60 347.20h-8M156.60 151.90h8M835.60 151.90h-8" stroke="#1a1a1a" stroke-width="2.6" fill="none"/>
<rect x="156.70" y="5.30" width="679.60" height="490.00" fill="none" stroke="#1a1a1a" stroke-width="2.6"/>
<text x="161.45" y="552.5" text-anchor="middle" class="t">1</text>
<text x="248.75" y="552.5" text-anchor="middle" class="t">10</text>
<text x="345.75" y="552.5" text-anchor="middle" class="t">20</text>
<text x="442.75" y="552.5" text-anchor="middle" class="t">30</text>
<text x="539.75" y="552.5" text-anchor="middle" class="t">40</text>
<text x="636.75" y="552.5" text-anchor="middle" class="t">50</text>
<text x="733.75" y="552.5" text-anchor="middle" class="t">60</text>
<text x="830.75" y="552.5" text-anchor="middle" class="t">70</text>
<text x="141.00" y="363.70" text-anchor="end" class="t">26</text>
<text x="141.00" y="168.40" text-anchor="end" class="t">27</text>
<text x="91.00" y="39.5" class="pl">(a)</text>
<text x="528.40" y="597.9" text-anchor="middle" class="xl">Modulation frequency (MHz)</text>
<rect x="851.60" y="5.30" width="69.80" height="490.00" fill="url(#cbg)"/>
<path d="M921.40 493.66h-3.6M921.40 481.03h-3.6M921.40 471.23h-3.6M921.40 463.23h-3.6M921.40 456.46h-3.6M921.40 450.60h-3.6M921.40 445.43h-3.6M921.40 440.80h-3.6M921.40 410.37h-3.6M921.40 392.56h-3.6M921.40 379.93h-3.6M921.40 370.13h-3.6M921.40 362.13h-3.6M921.40 355.36h-3.6M921.40 349.50h-3.6M921.40 344.33h-3.6M921.40 339.70h-7M921.40 309.27h-3.6M921.40 291.46h-3.6M921.40 278.83h-3.6M921.40 269.03h-3.6M921.40 261.03h-3.6M921.40 254.26h-3.6M921.40 248.40h-3.6M921.40 243.23h-3.6M921.40 238.60h-3.6M921.40 208.17h-3.6M921.40 190.36h-3.6M921.40 177.73h-3.6M921.40 167.93h-3.6M921.40 159.93h-3.6M921.40 153.16h-3.6M921.40 147.30h-3.6M921.40 142.13h-3.6M921.40 137.50h-7M921.40 107.07h-3.6M921.40 89.26h-3.6M921.40 76.63h-3.6M921.40 66.83h-3.6M921.40 58.83h-3.6M921.40 52.06h-3.6M921.40 46.20h-3.6M921.40 41.03h-3.6M921.40 36.40h-3.6" stroke="#1a1a1a" stroke-width="2.2" fill="none"/>
<rect x="851.60" y="5.30" width="69.80" height="490.00" fill="none" stroke="#1a1a1a" stroke-width="2.8"/>
<text x="936.10" y="159.60" class="cb">10</text>
<text x="979.50" y="139.40" class="sup">0</text>
<text x="936.10" y="361.80" class="cb">10</text>
<text x="979.50" y="342.60" class="sup">-2</text>
<text transform="translate(50.6,335.6) rotate(-90)" class="yl">I<tspan class="sub" dy="21.7">dc</tspan><tspan dy="-21.7"> (mA)</tspan></text><rect x="1131.40" y="5.40" width="10.29" height="98.40" fill="#aec637"/>
<rect x="1141.09" y="5.40" width="10.29" height="98.40" fill="#97ca48"/>
<rect x="1150.79" y="5.40" width="10.29" height="98.40" fill="#8fcb4e"/>
<rect x="1160.48" y="5.40" width="10.29" height="98.40" fill="#7ecc5b"/>
<rect x="1170.18" y="5.40" width="10.29" height="98.40" fill="#7ecc5b"/>
<rect x="1179.87" y="5.40" width="10.29" height="98.40" fill="#7ecc5b"/>
<rect x="1189.57" y="5.40" width="10.29" height="98.40" fill="#8fcb4e"/>
<rect x="1199.26" y="5.40" width="10.29" height="98.40" fill="#97ca48"/>
<rect x="1208.95" y="5.40" width="10.29" height="98.40" fill="#9fc942"/>
<rect x="1218.65" y="5.40" width="10.29" height="98.40" fill="#a7c73c"/>
<rect x="1228.34" y="5.40" width="10.29" height="98.40" fill="#aec637"/>
<rect x="1238.04" y="5.40" width="10.29" height="98.40" fill="#aec637"/>
<rect x="1247.73" y="5.40" width="10.29" height="98.40" fill="#aec637"/>
<rect x="1257.43" y="5.40" width="10.29" height="98.40" fill="#a7c73c"/>
<rect x="1267.12" y="5.40" width="10.29" height="98.40" fill="#97ca48"/>
<rect x="1276.81" y="5.40" width="10.29" height="98.40" fill="#97ca48"/>
<rect x="1286.51" y="5.40" width="10.29" height="98.40" fill="#8fcb4e"/>
<rect x="1296.20" y="5.40" width="10.29" height="98.40" fill="#86cb54"/>
<rect x="1305.90" y="5.40" width="10.29" height="98.40" fill="#7ecc5b"/>
<rect x="1315.59" y="5.40" width="10.29" height="98.40" fill="#7ecc5b"/>
<rect x="1325.29" y="5.40" width="10.29" height="98.40" fill="#76cc61"/>
<rect x="1334.98" y="5.40" width="10.29" height="98.40" fill="#7ecc5b"/>
<rect x="1344.67" y="5.40" width="10.29" height="98.40" fill="#7ecc5b"/>
<rect x="1354.37" y="5.40" width="10.29" height="98.40" fill="#8fcb4e"/>
<rect x="1364.06" y="5.40" width="10.29" height="98.40" fill="#9fc942"/>
<rect x="1373.76" y="5.40" width="10.29" height="98.40" fill="#9fc942"/>
<rect x="1383.45" y="5.40" width="10.29" height="98.40" fill="#8fcb4e"/>
<rect x="1393.15" y="5.40" width="10.29" height="98.40" fill="#7ecc5b"/>
<rect x="1402.84" y="5.40" width="10.29" height="98.40" fill="#5ecd74"/>
<rect x="1412.53" y="5.40" width="10.29" height="98.40" fill="#3fca8e"/>
<rect x="1422.23" y="5.40" width="10.29" height="98.40" fill="#31c6a0"/>
<rect x="1431.92" y="5.40" width="10.29" height="98.40" fill="#23c1af"/>
<rect x="1441.62" y="5.40" width="10.29" height="98.40" fill="#12beb9"/>
<rect x="1451.31" y="5.40" width="10.29" height="98.40" fill="#12beb9"/>
<rect x="1461.01" y="5.40" width="10.29" height="98.40" fill="#03bbc2"/>
<rect x="1470.70" y="5.40" width="10.29" height="98.40" fill="#11b1d6"/>
<rect x="1480.39" y="5.40" width="10.29" height="98.40" fill="#1caadf"/>
<rect x="1490.09" y="5.40" width="10.29" height="98.40" fill="#249fe6"/>
<rect x="1499.78" y="5.40" width="10.29" height="98.40" fill="#2b90f0"/>
<rect x="1509.48" y="5.40" width="10.29" height="98.40" fill="#3c71ff"/>
<rect x="1519.17" y="5.40" width="10.29" height="98.40" fill="#3c71ff"/>
<rect x="1528.87" y="5.40" width="10.29" height="98.40" fill="#3c71ff"/>
<rect x="1538.56" y="5.40" width="10.29" height="98.40" fill="#3876fe"/>
<rect x="1548.25" y="5.40" width="10.29" height="98.40" fill="#347afd"/>
<rect x="1557.95" y="5.40" width="10.29" height="98.40" fill="#3080fa"/>
<rect x="1567.64" y="5.40" width="10.29" height="98.40" fill="#2e86f8"/>
<rect x="1577.34" y="5.40" width="10.29" height="98.40" fill="#2d88f6"/>
<rect x="1587.03" y="5.40" width="10.29" height="98.40" fill="#2d8bf4"/>
<rect x="1596.73" y="5.40" width="10.29" height="98.40" fill="#2c8ef2"/>
<rect x="1606.42" y="5.40" width="10.29" height="98.40" fill="#2895ec"/>
<rect x="1616.11" y="5.40" width="10.29" height="98.40" fill="#11b1d6"/>
<rect x="1625.81" y="5.40" width="10.29" height="98.40" fill="#08b4d0"/>
<rect x="1635.50" y="5.40" width="10.29" height="98.40" fill="#01b8c8"/>
<rect x="1645.20" y="5.40" width="10.29" height="98.40" fill="#07bcbf"/>
<rect x="1654.89" y="5.40" width="10.29" height="98.40" fill="#28c3aa"/>
<rect x="1664.59" y="5.40" width="10.29" height="98.40" fill="#2dc4a5"/>
<rect x="1674.28" y="5.40" width="10.29" height="98.40" fill="#31c6a0"/>
<rect x="1683.97" y="5.40" width="10.29" height="98.40" fill="#31c6a0"/>
<rect x="1693.67" y="5.40" width="10.29" height="98.40" fill="#35c79a"/>
<rect x="1703.36" y="5.40" width="10.29" height="98.40" fill="#3fca8e"/>
<rect x="1713.06" y="5.40" width="10.29" height="98.40" fill="#76cc61"/>
<rect x="1722.75" y="5.40" width="10.29" height="98.40" fill="#76cc61"/>
<rect x="1732.45" y="5.40" width="10.29" height="98.40" fill="#7ecc5b"/>
<rect x="1742.14" y="5.40" width="10.29" height="98.40" fill="#7ecc5b"/>
<rect x="1751.83" y="5.40" width="10.29" height="98.40" fill="#86cb54"/>
<rect x="1761.53" y="5.40" width="10.29" height="98.40" fill="#8fcb4e"/>
<rect x="1771.22" y="5.40" width="10.29" height="98.40" fill="#5ecd74"/>
<rect x="1780.92" y="5.40" width="10.29" height="98.40" fill="#5ecd74"/>
<rect x="1790.61" y="5.40" width="10.29" height="98.40" fill="#5ecd74"/>
<rect x="1800.31" y="5.40" width="10.29" height="98.40" fill="#5ecd74"/>
<rect x="1131.40" y="103.20" width="10.29" height="97.60" fill="#e6bb2d"/>
<rect x="1141.09" y="103.20" width="10.29" height="97.60" fill="#d7be28"/>
<rect x="1150.79" y="103.20" width="10.29" height="97.60" fill="#d1bf27"/>
<rect x="1160.48" y="103.20" width="10.29" height="97.60" fill="#d1bf27"/>
<rect x="1170.18" y="103.20" width="10.29" height="97.60" fill="#d1bf27"/>
<rect x="1179.87" y="103.20" width="10.29" height="97.60" fill="#d7be28"/>
<rect x="1189.57" y="103.20" width="10.29" height="97.60" fill="#dfbc2a"/>
<rect x="1199.26" y="103.20" width="10.29" height="97.60" fill="#dfbc2a"/>
<rect x="1208.95" y="103.20" width="10.29" height="97.60" fill="#dfbc2a"/>
<rect x="1218.65" y="103.20" width="10.29" height="97.60" fill="#dfbc2a"/>
<rect x="1228.34" y="103.20" width="10.29" height="97.60" fill="#e6bb2d"/>
<rect x="1238.04" y="103.20" width="10.29" height="97.60" fill="#e6bb2d"/>
<rect x="1247.73" y="103.20" width="10.29" height="97.60" fill="#e6bb2d"/>
<rect x="1257.43" y="103.20" width="10.29" height="97.60" fill="#d7be28"/>
<rect x="1267.12" y="103.20" width="10.29" height="97.60" fill="#cac129"/>
<rect x="1276.81" y="103.20" width="10.29" height="97.60" fill="#bdc42f"/>
<rect x="1286.51" y="103.20" width="10.29" height="97.60" fill="#b5c533"/>
<rect x="1296.20" y="103.20" width="10.29" height="97.60" fill="#aec637"/>
<rect x="1305.90" y="103.20" width="10.29" height="97.60" fill="#b5c533"/>
<rect x="1315.59" y="103.20" width="10.29" height="97.60" fill="#c4c22b"/>
<rect x="1325.29" y="103.20" width="10.29" height="97.60" fill="#cac129"/>
<rect x="1334.98" y="103.20" width="10.29" height="97.60" fill="#cac129"/>
<rect x="1344.67" y="103.20" width="10.29" height="97.60" fill="#c4c22b"/>
<rect x="1354.37" y="103.20" width="10.29" height="97.60" fill="#8fcb4e"/>
<rect x="1364.06" y="103.20" width="10.29" height="97.60" fill="#31c6a0"/>
<rect x="1373.76" y="103.20" width="10.29" height="97.60" fill="#23c1af"/>
<rect x="1383.45" y="103.20" width="10.29" height="97.60" fill="#12beb9"/>
<rect x="1393.15" y="103.20" width="10.29" height="97.60" fill="#07bcbf"/>
<rect x="1402.84" y="103.20" width="10.29" height="97.60" fill="#01bac5"/>
<rect x="1412.53" y="103.20" width="10.29" height="97.60" fill="#01b8c8"/>
<rect x="1422.23" y="103.20" width="10.29" height="97.60" fill="#02b7cb"/>
<rect x="1431.92" y="103.20" width="10.29" height="97.60" fill="#11b1d6"/>
<rect x="1441.62" y="103.20" width="10.29" height="97.60" fill="#249fe6"/>
<rect x="1451.31" y="103.20" width="10.29" height="97.60" fill="#2c8ef2"/>
<rect x="1461.01" y="103.20" width="10.29" height="97.60" fill="#4464fd"/>
<rect x="1470.70" y="103.20" width="10.29" height="97.60" fill="#4464fd"/>
<rect x="1480.39" y="103.20" width="10.29" height="97.60" fill="#4464fd"/>
<rect x="1490.09" y="103.20" width="10.29" height="97.60" fill="#4660fb"/>
<rect x="1499.78" y="103.20" width="10.29" height="97.60" fill="#475cfa"/>
<rect x="1509.48" y="103.20" width="10.29" height="97.60" fill="#4464fd"/>
<rect x="1519.17" y="103.20" width="10.29" height="97.60" fill="#4368fe"/>
<rect x="1528.87" y="103.20" width="10.29" height="97.60" fill="#406dfe"/>
<rect x="1538.56" y="103.20" width="10.29" height="97.60" fill="#3876fe"/>
<rect x="1548.25" y="103.20" width="10.29" height="97.60" fill="#317dfc"/>
<rect x="1557.95" y="103.20" width="10.29" height="97.60" fill="#2d88f6"/>
<rect x="1567.64" y="103.20" width="10.29" height="97.60" fill="#2b90f0"/>
<rect x="1577.34" y="103.20" width="10.29" height="97.60" fill="#2895ec"/>
<rect x="1587.03" y="103.20" width="10.29" height="97.60" fill="#259ce7"/>
<rect x="1596.73" y="103.20" width="10.29" height="97.60" fill="#1ea7e1"/>
<rect x="1606.42" y="103.20" width="10.29" height="97.60" fill="#11b1d6"/>
<rect x="1616.11" y="103.20" width="10.29" height="97.60" fill="#03bbc2"/>
<rect x="1625.81" y="103.20" width="10.29" height="97.60" fill="#12beb9"/>
<rect x="1635.50" y="103.20" width="10.29" height="97.60" fill="#3fca8e"/>
<rect x="1645.20" y="103.20" width="10.29" height="97.60" fill="#47cb87"/>
<rect x="1654.89" y="103.20" width="10.29" height="97.60" fill="#50cc80"/>
<rect x="1664.59" y="103.20" width="10.29" height="97.60" fill="#66cd6e"/>
<rect x="1674.28" y="103.20" width="10.29" height="97.60" fill="#97ca48"/>
<rect x="1683.97" y="103.20" width="10.29" height="97.60" fill="#aec637"/>
<rect x="1693.67" y="103.20" width="10.29" height="97.60" fill="#e6bb2d"/>
<rect x="1703.36" y="103.20" width="10.29" height="97.60" fill="#d1bf27"/>
<rect x="1713.06" y="103.20" width="10.29" height="97.60" fill="#aec637"/>
<rect x="1722.75" y="103.20" width="10.29" height="97.60" fill="#50cc80"/>
<rect x="1732.45" y="103.20" width="10.29" height="97.60" fill="#12beb9"/>
<rect x="1742.14" y="103.20" width="10.29" height="97.60" fill="#08b4d0"/>
<rect x="1751.83" y="103.20" width="10.29" height="97.60" fill="#19addc"/>
<rect x="1761.53" y="103.20" width="10.29" height="97.60" fill="#249fe6"/>
<rect x="1771.22" y="103.20" width="10.29" height="97.60" fill="#22a1e4"/>
<rect x="1780.92" y="103.20" width="10.29" height="97.60" fill="#20a4e3"/>
<rect x="1790.61" y="103.20" width="10.29" height="97.60" fill="#20a4e3"/>
<rect x="1800.31" y="103.20" width="10.29" height="97.60" fill="#20a4e3"/>
<rect x="1131.40" y="200.20" width="10.29" height="99.00" fill="#f6f020"/>
<rect x="1141.09" y="200.20" width="10.29" height="99.00" fill="#fec835"/>
<rect x="1150.79" y="200.20" width="10.29" height="99.00" fill="#fec437"/>
<rect x="1160.48" y="200.20" width="10.29" height="99.00" fill="#cac129"/>
<rect x="1170.18" y="200.20" width="10.29" height="99.00" fill="#c4c22b"/>
<rect x="1179.87" y="200.20" width="10.29" height="99.00" fill="#d7be28"/>
<rect x="1189.57" y="200.20" width="10.29" height="99.00" fill="#fec13a"/>
<rect x="1199.26" y="200.20" width="10.29" height="99.00" fill="#fec13a"/>
<rect x="1208.95" y="200.20" width="10.29" height="99.00" fill="#fec437"/>
<rect x="1218.65" y="200.20" width="10.29" height="99.00" fill="#e6bb2d"/>
<rect x="1228.34" y="200.20" width="10.29" height="99.00" fill="#c4c22b"/>
<rect x="1238.04" y="200.20" width="10.29" height="99.00" fill="#bdc42f"/>
<rect x="1247.73" y="200.20" width="10.29" height="99.00" fill="#7ecc5b"/>
<rect x="1257.43" y="200.20" width="10.29" height="99.00" fill="#76cc61"/>
<rect x="1267.12" y="200.20" width="10.29" height="99.00" fill="#7ecc5b"/>
<rect x="1276.81" y="200.20" width="10.29" height="99.00" fill="#5ecd74"/>
<rect x="1286.51" y="200.20" width="10.29" height="99.00" fill="#50cc80"/>
<rect x="1296.20" y="200.20" width="10.29" height="99.00" fill="#3fca8e"/>
<rect x="1305.90" y="200.20" width="10.29" height="99.00" fill="#2dc4a5"/>
<rect x="1315.59" y="200.20" width="10.29" height="99.00" fill="#01b8c8"/>
<rect x="1325.29" y="200.20" width="10.29" height="99.00" fill="#08b4d0"/>
<rect x="1334.98" y="200.20" width="10.29" height="99.00" fill="#08b4d0"/>
<rect x="1344.67" y="200.20" width="10.29" height="99.00" fill="#08b4d0"/>
<rect x="1354.37" y="200.20" width="10.29" height="99.00" fill="#08b4d0"/>
<rect x="1364.06" y="200.20" width="10.29" height="99.00" fill="#02b7cb"/>
<rect x="1373.76" y="200.20" width="10.29" height="99.00" fill="#01b8c8"/>
<rect x="1383.45" y="200.20" width="10.29" height="99.00" fill="#19addc"/>
<rect x="1393.15" y="200.20" width="10.29" height="99.00" fill="#249fe6"/>
<rect x="1402.84" y="200.20" width="10.29" height="99.00" fill="#3080fa"/>
<rect x="1412.53" y="200.20" width="10.29" height="99.00" fill="#475cfa"/>
<rect x="1422.23" y="200.20" width="10.29" height="99.00" fill="#4854f5"/>
<rect x="1431.92" y="200.20" width="10.29" height="99.00" fill="#475cfa"/>
<rect x="1441.62" y="200.20" width="10.29" height="99.00" fill="#4660fb"/>
<rect x="1451.31" y="200.20" width="10.29" height="99.00" fill="#4464fd"/>
<rect x="1461.01" y="200.20" width="10.29" height="99.00" fill="#406dfe"/>
<rect x="1470.70" y="200.20" width="10.29" height="99.00" fill="#3876fe"/>
<rect x="1480.39" y="200.20" width="10.29" height="99.00" fill="#3876fe"/>
<rect x="1490.09" y="200.20" width="10.29" height="99.00" fill="#347afd"/>
<rect x="1499.78" y="200.20" width="10.29" height="99.00" fill="#2d88f6"/>
<rect x="1509.48" y="200.20" width="10.29" height="99.00" fill="#2c8ef2"/>
<rect x="1519.17" y="200.20" width="10.29" height="99.00" fill="#2895ec"/>
<rect x="1528.87" y="200.20" width="10.29" height="99.00" fill="#249fe6"/>
<rect x="1538.56" y="200.20" width="10.29" height="99.00" fill="#28c3aa"/>
<rect x="1548.25" y="200.20" width="10.29" height="99.00" fill="#12beb9"/>
<rect x="1557.95" y="200.20" width="10.29" height="99.00" fill="#28c3aa"/>
<rect x="1567.64" y="200.20" width="10.29" height="99.00" fill="#9fc942"/>
<rect x="1577.34" y="200.20" width="10.29" height="99.00" fill="#dfbc2a"/>
<rect x="1587.03" y="200.20" width="10.29" height="99.00" fill="#aec637"/>
<rect x="1596.73" y="200.20" width="10.29" height="99.00" fill="#aec637"/>
<rect x="1606.42" y="200.20" width="10.29" height="99.00" fill="#11b1d6"/>
<rect x="1616.11" y="200.20" width="10.29" height="99.00" fill="#4464fd"/>
<rect x="1625.81" y="200.20" width="10.29" height="99.00" fill="#3c71ff"/>
<rect x="1635.50" y="200.20" width="10.29" height="99.00" fill="#4660fb"/>
<rect x="1645.20" y="200.20" width="10.29" height="99.00" fill="#4660fb"/>
<rect x="1654.89" y="200.20" width="10.29" height="99.00" fill="#4660fb"/>
<rect x="1664.59" y="200.20" width="10.29" height="99.00" fill="#4660fb"/>
<rect x="1674.28" y="200.20" width="10.29" height="99.00" fill="#4854f5"/>
<rect x="1683.97" y="200.20" width="10.29" height="99.00" fill="#4368fe"/>
<rect x="1693.67" y="200.20" width="10.29" height="99.00" fill="#347afd"/>
<rect x="1703.36" y="200.20" width="10.29" height="99.00" fill="#3c71ff"/>
<rect x="1713.06" y="200.20" width="10.29" height="99.00" fill="#347afd"/>
<rect x="1722.75" y="200.20" width="10.29" height="99.00" fill="#3080fa"/>
<rect x="1732.45" y="200.20" width="10.29" height="99.00" fill="#4368fe"/>
<rect x="1742.14" y="200.20" width="10.29" height="99.00" fill="#1caadf"/>
<rect x="1751.83" y="200.20" width="10.29" height="99.00" fill="#11b1d6"/>
<rect x="1761.53" y="200.20" width="10.29" height="99.00" fill="#08b4d0"/>
<rect x="1771.22" y="200.20" width="10.29" height="99.00" fill="#05b6ce"/>
<rect x="1780.92" y="200.20" width="10.29" height="99.00" fill="#05b6ce"/>
<rect x="1790.61" y="200.20" width="10.29" height="99.00" fill="#12beb9"/>
<rect x="1800.31" y="200.20" width="10.29" height="99.00" fill="#35c79a"/>
<rect x="1131.40" y="298.60" width="10.29" height="98.70" fill="#01bac5"/>
<rect x="1141.09" y="298.60" width="10.29" height="98.70" fill="#01bac5"/>
<rect x="1150.79" y="298.60" width="10.29" height="98.70" fill="#01bac5"/>
<rect x="1160.48" y="298.60" width="10.29" height="98.70" fill="#01bac5"/>
<rect x="1170.18" y="298.60" width="10.29" height="98.70" fill="#01bac5"/>
<rect x="1179.87" y="298.60" width="10.29" height="98.70" fill="#01bac5"/>
<rect x="1189.57" y="298.60" width="10.29" height="98.70" fill="#01bac5"/>
<rect x="1199.26" y="298.60" width="10.29" height="98.70" fill="#01bac5"/>
<rect x="1208.95" y="298.60" width="10.29" height="98.70" fill="#01bac5"/>
<rect x="1218.65" y="298.60" width="10.29" height="98.70" fill="#12beb9"/>
<rect x="1228.34" y="298.60" width="10.29" height="98.70" fill="#12beb9"/>
<rect x="1238.04" y="298.60" width="10.29" height="98.70" fill="#12beb9"/>
<rect x="1247.73" y="298.60" width="10.29" height="98.70" fill="#12beb9"/>
<rect x="1257.43" y="298.60" width="10.29" height="98.70" fill="#12beb9"/>
<rect x="1267.12" y="298.60" width="10.29" height="98.70" fill="#50cc80"/>
<rect x="1276.81" y="298.60" width="10.29" height="98.70" fill="#11b1d6"/>
<rect x="1286.51" y="298.60" width="10.29" height="98.70" fill="#20a4e3"/>
<rect x="1296.20" y="298.60" width="10.29" height="98.70" fill="#22a1e4"/>
<rect x="1305.90" y="298.60" width="10.29" height="98.70" fill="#249fe6"/>
<rect x="1315.59" y="298.60" width="10.29" height="98.70" fill="#2b90f0"/>
<rect x="1325.29" y="298.60" width="10.29" height="98.70" fill="#2d88f6"/>
<rect x="1334.98" y="298.60" width="10.29" height="98.70" fill="#347afd"/>
<rect x="1344.67" y="298.60" width="10.29" height="98.70" fill="#4660fb"/>
<rect x="1354.37" y="298.60" width="10.29" height="98.70" fill="#422ebe"/>
<rect x="1364.06" y="298.60" width="10.29" height="98.70" fill="#473fe2"/>
<rect x="1373.76" y="298.60" width="10.29" height="98.70" fill="#475cfa"/>
<rect x="1383.45" y="298.60" width="10.29" height="98.70" fill="#4660fb"/>
<rect x="1393.15" y="298.60" width="10.29" height="98.70" fill="#4660fb"/>
<rect x="1402.84" y="298.60" width="10.29" height="98.70" fill="#4660fb"/>
<rect x="1412.53" y="298.60" width="10.29" height="98.70" fill="#4854f5"/>
<rect x="1422.23" y="298.60" width="10.29" height="98.70" fill="#484bef"/>
<rect x="1431.92" y="298.60" width="10.29" height="98.70" fill="#406dfe"/>
<rect x="1441.62" y="298.60" width="10.29" height="98.70" fill="#347afd"/>
<rect x="1451.31" y="298.60" width="10.29" height="98.70" fill="#2895ec"/>
<rect x="1461.01" y="298.60" width="10.29" height="98.70" fill="#19addc"/>
<rect x="1470.70" y="298.60" width="10.29" height="98.70" fill="#12beb9"/>
<rect x="1480.39" y="298.60" width="10.29" height="98.70" fill="#50cc80"/>
<rect x="1490.09" y="298.60" width="10.29" height="98.70" fill="#cac129"/>
<rect x="1499.78" y="298.60" width="10.29" height="98.70" fill="#cac129"/>
<rect x="1509.48" y="298.60" width="10.29" height="98.70" fill="#7ecc5b"/>
<rect x="1519.17" y="298.60" width="10.29" height="98.70" fill="#03bbc2"/>
<rect x="1528.87" y="298.60" width="10.29" height="98.70" fill="#2c8ef2"/>
<rect x="1538.56" y="298.60" width="10.29" height="98.70" fill="#406dfe"/>
<rect x="1548.25" y="298.60" width="10.29" height="98.70" fill="#475cfa"/>
<rect x="1557.95" y="298.60" width="10.29" height="98.70" fill="#347afd"/>
<rect x="1567.64" y="298.60" width="10.29" height="98.70" fill="#347afd"/>
<rect x="1577.34" y="298.60" width="10.29" height="98.70" fill="#347afd"/>
<rect x="1587.03" y="298.60" width="10.29" height="98.70" fill="#347afd"/>
<rect x="1596.73" y="298.60" width="10.29" height="98.70" fill="#347afd"/>
<rect x="1606.42" y="298.60" width="10.29" height="98.70" fill="#3c71ff"/>
<rect x="1616.11" y="298.60" width="10.29" height="98.70" fill="#2d88f6"/>
<rect x="1625.81" y="298.60" width="10.29" height="98.70" fill="#2d88f6"/>
<rect x="1635.50" y="298.60" width="10.29" height="98.70" fill="#2895ec"/>
<rect x="1645.20" y="298.60" width="10.29" height="98.70" fill="#2c8ef2"/>
<rect x="1654.89" y="298.60" width="10.29" height="98.70" fill="#2c8ef2"/>
<rect x="1664.59" y="298.60" width="10.29" height="98.70" fill="#259ce7"/>
<rect x="1674.28" y="298.60" width="10.29" height="98.70" fill="#11b1d6"/>
<rect x="1683.97" y="298.60" width="10.29" height="98.70" fill="#50cc80"/>
<rect x="1693.67" y="298.60" width="10.29" height="98.70" fill="#28c3aa"/>
<rect x="1703.36" y="298.60" width="10.29" height="98.70" fill="#28c3aa"/>
<rect x="1713.06" y="298.60" width="10.29" height="98.70" fill="#50cc80"/>
<rect x="1722.75" y="298.60" width="10.29" height="98.70" fill="#bdc42f"/>
<rect x="1732.45" y="298.60" width="10.29" height="98.70" fill="#c4c22b"/>
<rect x="1742.14" y="298.60" width="10.29" height="98.70" fill="#50cc80"/>
<rect x="1751.83" y="298.60" width="10.29" height="98.70" fill="#8fcb4e"/>
<rect x="1761.53" y="298.60" width="10.29" height="98.70" fill="#8fcb4e"/>
<rect x="1771.22" y="298.60" width="10.29" height="98.70" fill="#7ecc5b"/>
<rect x="1780.92" y="298.60" width="10.29" height="98.70" fill="#5ecd74"/>
<rect x="1790.61" y="298.60" width="10.29" height="98.70" fill="#5ecd74"/>
<rect x="1800.31" y="298.60" width="10.29" height="98.70" fill="#5ecd74"/>
<rect x="1131.40" y="396.70" width="10.29" height="97.50" fill="#28c3aa"/>
<rect x="1141.09" y="396.70" width="10.29" height="97.50" fill="#28c3aa"/>
<rect x="1150.79" y="396.70" width="10.29" height="97.50" fill="#28c3aa"/>
<rect x="1160.48" y="396.70" width="10.29" height="97.50" fill="#28c3aa"/>
<rect x="1170.18" y="396.70" width="10.29" height="97.50" fill="#28c3aa"/>
<rect x="1179.87" y="396.70" width="10.29" height="97.50" fill="#28c3aa"/>
<rect x="1189.57" y="396.70" width="10.29" height="97.50" fill="#28c3aa"/>
<rect x="1199.26" y="396.70" width="10.29" height="97.50" fill="#28c3aa"/>
<rect x="1208.95" y="396.70" width="10.29" height="97.50" fill="#28c3aa"/>
<rect x="1218.65" y="396.70" width="10.29" height="97.50" fill="#23c1af"/>
<rect x="1228.34" y="396.70" width="10.29" height="97.50" fill="#9fc942"/>
<rect x="1238.04" y="396.70" width="10.29" height="97.50" fill="#f9ba3d"/>
<rect x="1247.73" y="396.70" width="10.29" height="97.50" fill="#97ca48"/>
<rect x="1257.43" y="396.70" width="10.29" height="97.50" fill="#1ea7e1"/>
<rect x="1267.12" y="396.70" width="10.29" height="97.50" fill="#2e83f9"/>
<rect x="1276.81" y="396.70" width="10.29" height="97.50" fill="#3080fa"/>
<rect x="1286.51" y="396.70" width="10.29" height="97.50" fill="#4660fb"/>
<rect x="1296.20" y="396.70" width="10.29" height="97.50" fill="#406dfe"/>
<rect x="1305.90" y="396.70" width="10.29" height="97.50" fill="#4854f5"/>
<rect x="1315.59" y="396.70" width="10.29" height="97.50" fill="#4331c7"/>
<rect x="1325.29" y="396.70" width="10.29" height="97.50" fill="#4368fe"/>
<rect x="1334.98" y="396.70" width="10.29" height="97.50" fill="#347afd"/>
<rect x="1344.67" y="396.70" width="10.29" height="97.50" fill="#2895ec"/>
<rect x="1354.37" y="396.70" width="10.29" height="97.50" fill="#11b1d6"/>
<rect x="1364.06" y="396.70" width="10.29" height="97.50" fill="#12beb9"/>
<rect x="1373.76" y="396.70" width="10.29" height="97.50" fill="#50cc80"/>
<rect x="1383.45" y="396.70" width="10.29" height="97.50" fill="#6dcd67"/>
<rect x="1393.15" y="396.70" width="10.29" height="97.50" fill="#8fcb4e"/>
<rect x="1402.84" y="396.70" width="10.29" height="97.50" fill="#8fcb4e"/>
<rect x="1412.53" y="396.70" width="10.29" height="97.50" fill="#50cc80"/>
<rect x="1422.23" y="396.70" width="10.29" height="97.50" fill="#3ac994"/>
<rect x="1431.92" y="396.70" width="10.29" height="97.50" fill="#28c3aa"/>
<rect x="1441.62" y="396.70" width="10.29" height="97.50" fill="#12beb9"/>
<rect x="1451.31" y="396.70" width="10.29" height="97.50" fill="#07bcbf"/>
<rect x="1461.01" y="396.70" width="10.29" height="97.50" fill="#01b8c8"/>
<rect x="1470.70" y="396.70" width="10.29" height="97.50" fill="#01b8c8"/>
<rect x="1480.39" y="396.70" width="10.29" height="97.50" fill="#03bbc2"/>
<rect x="1490.09" y="396.70" width="10.29" height="97.50" fill="#12beb9"/>
<rect x="1499.78" y="396.70" width="10.29" height="97.50" fill="#23c1af"/>
<rect x="1509.48" y="396.70" width="10.29" height="97.50" fill="#50cc80"/>
<rect x="1519.17" y="396.70" width="10.29" height="97.50" fill="#5ecd74"/>
<rect x="1528.87" y="396.70" width="10.29" height="97.50" fill="#8fcb4e"/>
<rect x="1538.56" y="396.70" width="10.29" height="97.50" fill="#b5c533"/>
<rect x="1548.25" y="396.70" width="10.29" height="97.50" fill="#c4c22b"/>
<rect x="1557.95" y="396.70" width="10.29" height="97.50" fill="#e6bb2d"/>
<rect x="1567.64" y="396.70" width="10.29" height="97.50" fill="#e6bb2d"/>
<rect x="1577.34" y="396.70" width="10.29" height="97.50" fill="#e6bb2d"/>
<rect x="1587.03" y="396.70" width="10.29" height="97.50" fill="#e6bb2d"/>
<rect x="1596.73" y="396.70" width="10.29" height="97.50" fill="#c4c22b"/>
<rect x="1606.42" y="396.70" width="10.29" height="97.50" fill="#aec637"/>
<rect x="1616.11" y="396.70" width="10.29" height="97.50" fill="#9fc942"/>
<rect x="1625.81" y="396.70" width="10.29" height="97.50" fill="#9fc942"/>
<rect x="1635.50" y="396.70" width="10.29" height="97.50" fill="#9fc942"/>
<rect x="1645.20" y="396.70" width="10.29" height="97.50" fill="#9fc942"/>
<rect x="1654.89" y="396.70" width="10.29" height="97.50" fill="#97ca48"/>
<rect x="1664.59" y="396.70" width="10.29" height="97.50" fill="#97ca48"/>
<rect x="1674.28" y="396.70" width="10.29" height="97.50" fill="#97ca48"/>
<rect x="1683.97" y="396.70" width="10.29" height="97.50" fill="#97ca48"/>
<rect x="1693.67" y="396.70" width="10.29" height="97.50" fill="#97ca48"/>
<rect x="1703.36" y="396.70" width="10.29" height="97.50" fill="#9bc945"/>
<rect x="1713.06" y="396.70" width="10.29" height="97.50" fill="#9bc945"/>
<rect x="1722.75" y="396.70" width="10.29" height="97.50" fill="#9bc945"/>
<rect x="1732.45" y="396.70" width="10.29" height="97.50" fill="#9bc945"/>
<rect x="1742.14" y="396.70" width="10.29" height="97.50" fill="#9bc945"/>
<rect x="1751.83" y="396.70" width="10.29" height="97.50" fill="#9bc945"/>
<rect x="1761.53" y="396.70" width="10.29" height="97.50" fill="#97ca48"/>
<rect x="1771.22" y="396.70" width="10.29" height="97.50" fill="#8fcb4e"/>
<rect x="1780.92" y="396.70" width="10.29" height="97.50" fill="#50cc80"/>
<rect x="1790.61" y="396.70" width="10.29" height="97.50" fill="#5ecd74"/>
<rect x="1800.31" y="396.70" width="10.29" height="97.50" fill="#9fc942"/>
<path d="M1136.45 5.40V493.80M1223.50 5.40V493.80M1320.44 5.40V493.80M1417.38 5.40V493.80M1514.32 5.40V493.80M1611.27 5.40V493.80M1708.21 5.40V493.80M1805.15 5.40V493.80" stroke="#262626" stroke-opacity="0.2" stroke-width="2.4" fill="none"/>
<path d="M1131.40 347.20H1810.00M1131.40 151.90H1810.00" stroke="#262626" stroke-opacity="0.2" stroke-width="2.4" fill="none"/>
<path d="M1136.45 495.30v-9M1136.45 5.30v8M1223.50 495.30v-9M1223.50 5.30v8M1320.44 495.30v-9M1320.44 5.30v8M1417.38 495.30v-9M1417.38 5.30v8M1514.32 495.30v-9M1514.32 5.30v8M1611.27 495.30v-9M1611.27 5.30v8M1708.21 495.30v-9M1708.21 5.30v8M1805.15 495.30v-9M1805.15 5.30v8M1131.40 347.20h8M1810.00 347.20h-8M1131.40 151.90h8M1810.00 151.90h-8" stroke="#1a1a1a" stroke-width="2.6" fill="none"/>
<rect x="1131.50" y="5.30" width="679.20" height="490.00" fill="none" stroke="#1a1a1a" stroke-width="2.6"/>
<text x="1136.25" y="552.5" text-anchor="middle" class="t">1</text>
<text x="1223.50" y="552.5" text-anchor="middle" class="t">10</text>
<text x="1320.44" y="552.5" text-anchor="middle" class="t">20</text>
<text x="1417.38" y="552.5" text-anchor="middle" class="t">30</text>
<text x="1514.32" y="552.5" text-anchor="middle" class="t">40</text>
<text x="1611.27" y="552.5" text-anchor="middle" class="t">50</text>
<text x="1708.21" y="552.5" text-anchor="middle" class="t">60</text>
<text x="1805.15" y="552.5" text-anchor="middle" class="t">70</text>
<text x="1114.00" y="363.70" text-anchor="end" class="t">26</text>
<text x="1114.00" y="168.40" text-anchor="end" class="t">27</text>
<text x="1066.00" y="39.5" class="pl">(b)</text>
<text x="1489.60" y="597.9" text-anchor="middle" class="xl">Modulation frequency (MHz)</text>
<rect x="1844.40" y="5.50" width="67.00" height="494.40" fill="url(#cbg)"/>
<path d="M1911.40 488.28h-3.6M1911.40 478.31h-3.6M1911.40 470.17h-3.6M1911.40 463.28h-3.6M1911.40 457.32h-3.6M1911.40 452.06h-3.6M1911.40 447.35h-3.6M1911.40 416.39h-3.6M1911.40 398.28h-3.6M1911.40 385.43h-3.6M1911.40 375.46h-3.6M1911.40 367.32h-3.6M1911.40 360.43h-3.6M1911.40 354.47h-3.6M1911.40 349.21h-3.6M1911.40 344.50h-7M1911.40 313.54h-3.6M1911.40 295.43h-3.6M1911.40 282.58h-3.6M1911.40 272.61h-3.6M1911.40 264.47h-3.6M1911.40 257.58h-3.6M1911.40 251.62h-3.6M1911.40 246.36h-3.6M1911.40 241.65h-3.6M1911.40 210.69h-3.6M1911.40 192.58h-3.6M1911.40 179.73h-3.6M1911.40 169.76h-3.6M1911.40 161.62h-3.6M1911.40 154.73h-3.6M1911.40 148.77h-3.6M1911.40 143.51h-3.6M1911.40 138.80h-7M1911.40 107.84h-3.6M1911.40 89.73h-3.6M1911.40 76.88h-3.6M1911.40 66.91h-3.6M1911.40 58.77h-3.6M1911.40 51.88h-3.6M1911.40 45.92h-3.6M1911.40 40.66h-3.6M1911.40 35.95h-3.6" stroke="#1a1a1a" stroke-width="2.2" fill="none"/>
<rect x="1844.40" y="5.50" width="67.00" height="494.40" fill="none" stroke="#1a1a1a" stroke-width="2.8"/>
<text x="1926.10" y="159.60" class="cb">10</text>
<text x="1970.70" y="139.40" class="sup">0</text>
<text x="1926.10" y="364.70" class="cb">10</text>
<text x="1970.70" y="345.50" class="sup">-2</text></svg>
</body></html>
